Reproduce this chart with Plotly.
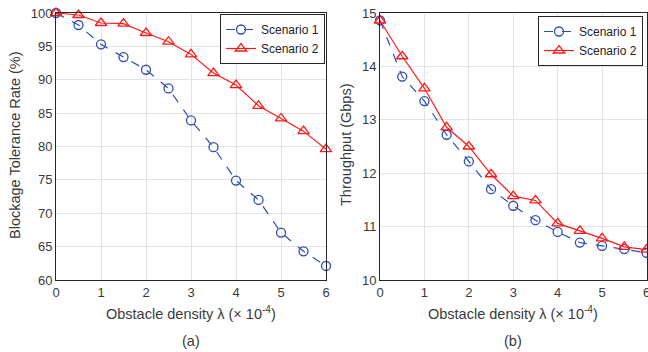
import plotly.graph_objects as go

density = [0, 0.5, 1, 1.5, 2, 2.5, 3, 3.5, 4, 4.5, 5, 5.5, 6]
tol_s1 = [100, 98.2, 95.3, 93.4, 91.5, 88.7, 83.9, 79.9, 74.9, 72.0, 67.1, 64.3, 62.1]
tol_s2 = [100, 99.7, 98.5, 98.4, 97.0, 95.7, 93.8, 91.0, 89.2, 86.1, 84.2, 82.3, 79.6]
thr_s1 = [14.86, 13.81, 13.35, 12.72, 12.22, 11.70, 11.39, 11.12, 10.90, 10.70, 10.64, 10.58, 10.51]
thr_s2 = [14.86, 14.19, 13.59, 12.86, 12.50, 11.98, 11.57, 11.49, 11.06, 10.92, 10.78, 10.62, 10.57]

x_ticks = [0, 1, 2, 3, 4, 5, 6]
tol_ticks = [60, 65, 70, 75, 80, 85, 90, 95, 100]
thr_ticks = [10, 11, 12, 13, 14, 15]

BLUE = "#2d4db3"
RED = "#ff1a1a"
FONT = "Liberation Sans, Arial, sans-serif"
TXT = "#3a3a3a"

W, H = 648, 352

def px(v):
    return v / W

def py(v):
    return 1 - v / H

fig = go.Figure()

def s1(x, y, xa, ya, leg):
    return go.Scatter(x=x, y=y, xaxis=xa, yaxis=ya, name="Scenario 1", legend=leg,
                      mode="lines+markers", cliponaxis=False,
                      line=dict(color=BLUE, width=1.2, dash="dash"),
                      marker=dict(symbol="circle-open", size=9, color=BLUE, line=dict(width=1.3)))

def s2(x, y, xa, ya, leg):
    return go.Scatter(x=x, y=y, xaxis=xa, yaxis=ya, name="Scenario 2", legend=leg,
                      mode="lines+markers", cliponaxis=False,
                      line=dict(color=RED, width=1.2),
                      marker=dict(symbol="triangle-up-open", size=10, color=RED, line=dict(width=1.3)))

fig.add_trace(s1(density, tol_s1, "x", "y", "legend"))
fig.add_trace(s2(density, tol_s2, "x", "y", "legend"))
fig.add_trace(s1(density, thr_s1, "x2", "y2", "legend2"))
fig.add_trace(s2(density, thr_s2, "x2", "y2", "legend2"))

ax_common = dict(showline=True, linecolor="#262626", linewidth=1, mirror=True,
                 showgrid=True, gridcolor="#e3e3e3", gridwidth=1, zeroline=False,
                 automargin=False, ticks="", ticklabeloverflow="allow",
                 tickfont=dict(family=FONT, size=13, color=TXT))

leg_font = dict(family=FONT, size=12, color="#222222")
fig.update_layout(
    width=W, height=H,
    margin=dict(l=0, r=0, t=0, b=0, autoexpand=False),
    paper_bgcolor="white", plot_bgcolor="white",
    font=dict(family=FONT, color=TXT),
    hovermode=False,
    xaxis=dict(domain=[px(56), px(326)], range=[0, 6], tickvals=x_ticks, anchor="y", **ax_common),
    yaxis=dict(domain=[py(280), py(13)], range=[60, 100], tickvals=tol_ticks, anchor="x", **ax_common),
    xaxis2=dict(domain=[px(380), px(646.5)], range=[0, 6], tickvals=x_ticks, anchor="y2", **ax_common),
    yaxis2=dict(domain=[py(280), py(13)], range=[10, 15], tickvals=thr_ticks, anchor="x2", **ax_common),
    legend=dict(x=px(325), y=py(14), xanchor="right", yanchor="top",
                bordercolor="#262626", borderwidth=1, bgcolor="white",
                font=leg_font, tracegroupgap=0, itemwidth=30),
    legend2=dict(x=px(643), y=py(16), xanchor="right", yanchor="top",
                 bordercolor="#262626", borderwidth=1, bgcolor="white",
                 font=leg_font, tracegroupgap=0, itemwidth=30),
)

ann = []
tfont = dict(family=FONT, size=14.5, color=TXT)
for cx, lab in [(191, "(a)"), (513, "(b)")]:
    ann.append(dict(x=px(cx), y=py(313), xref="paper", yref="paper", showarrow=False,
                    xanchor="center", yanchor="middle",
                    text="Obstacle density λ (× 10<sup>-4</sup>)", font=tfont))
    ann.append(dict(x=px(cx), y=py(341), xref="paper", yref="paper", showarrow=False,
                    xanchor="center", yanchor="middle", text=lab, font=tfont))
ann.append(dict(x=px(15), y=py(145), xref="paper", yref="paper", showarrow=False,
                xanchor="center", yanchor="middle",
                text="Blockage Tolerance Rate (%)", textangle=-90, font=tfont))
ann.append(dict(x=px(346), y=py(145), xref="paper", yref="paper", showarrow=False,
                xanchor="center", yanchor="middle",
                text="Throughput (Gbps)", textangle=-90, font=tfont))
fig.update_layout(annotations=ann)

fig.write_html("out.html", config={"displayModeBar": False},
               post_script="document.body.style.margin='0';document.body.style.overflow='hidden';")
